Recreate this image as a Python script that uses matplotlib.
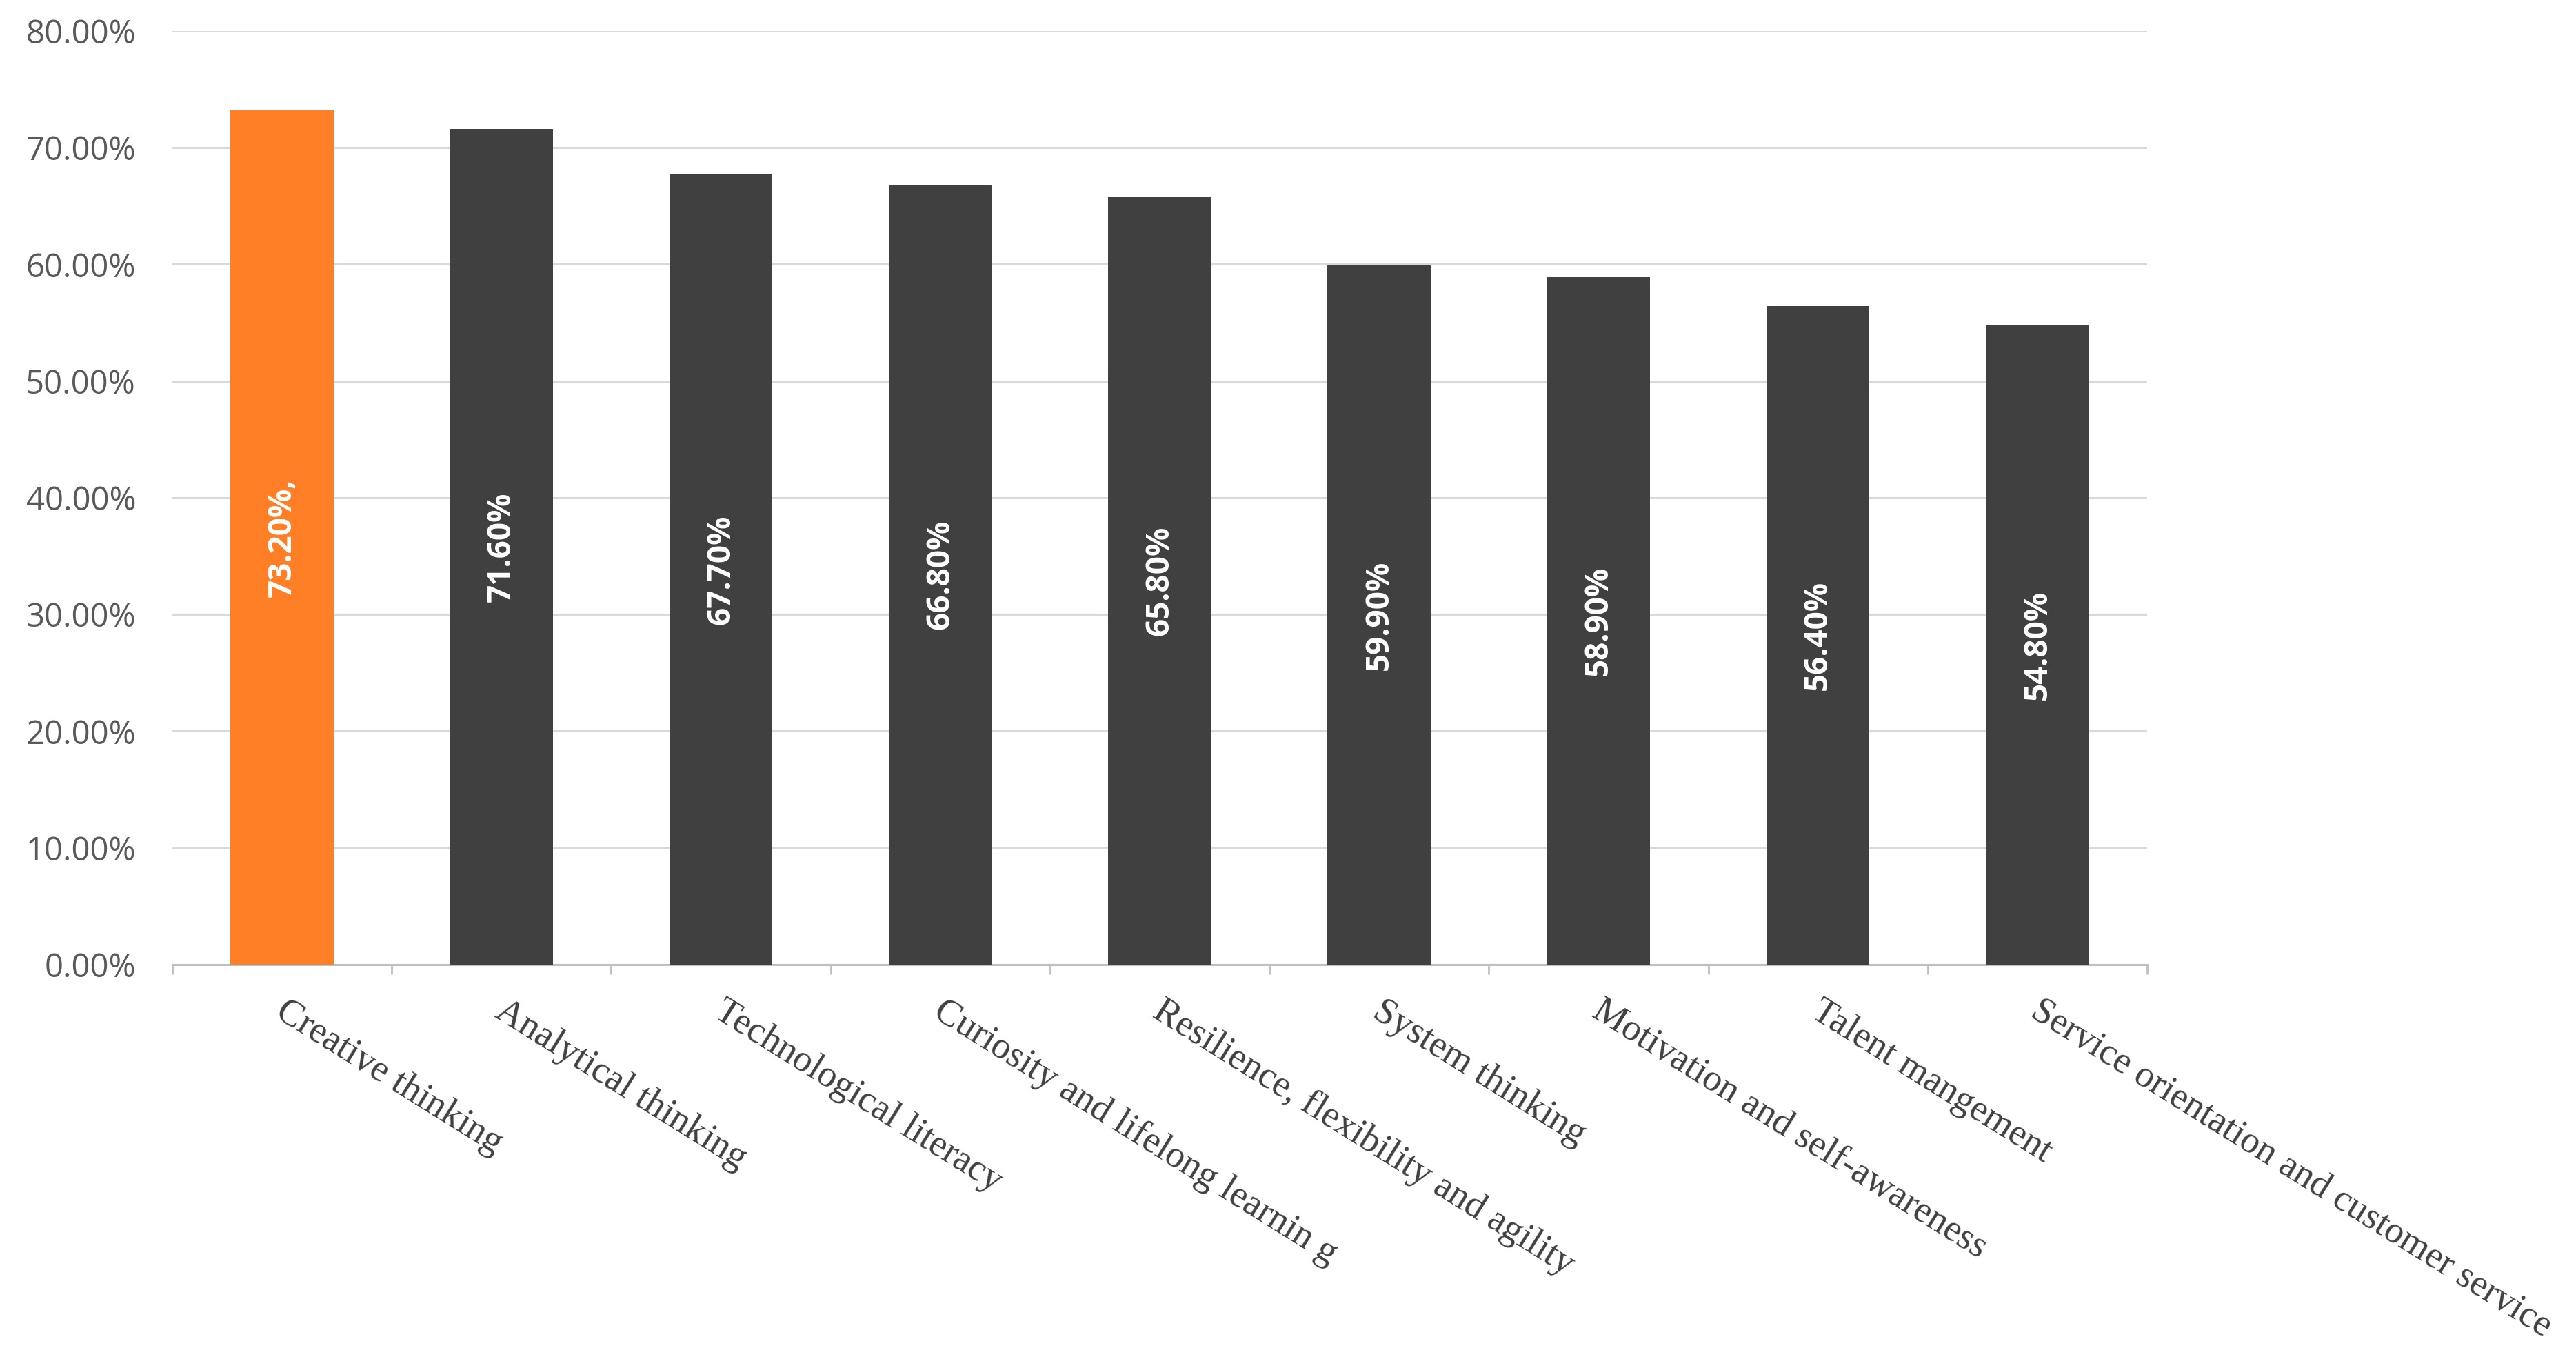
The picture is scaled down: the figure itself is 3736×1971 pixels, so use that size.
import matplotlib.pyplot as plt
import numpy as np
from matplotlib.ticker import FixedLocator

skills = ['Creative thinking', 'Analytical thinking', 'Technological literacy',
          'Curiosity and lifelong learnin g', 'Resilience, flexibility and agility',
          'System thinking', 'Motivation and self-awareness', 'Talent mangement',
          'Service orientation and customer service']
shares = [73.2, 71.6, 67.7, 66.8, 65.8, 59.9, 58.9, 56.4, 54.8]
bar_labels = ['73.20%,', '71.60%', '67.70%', '66.80%', '65.80%',
              '59.90%', '58.90%', '56.40%', '54.80%']
y_ticks = [0, 10, 20, 30, 40, 50, 60, 70, 80]

orange = '#FF7F27'
dark = '#404040'

fig = plt.figure(figsize=(37.36, 19.71), dpi=100)
ax = fig.add_axes([0.0669, 0.2902, 0.7666, 0.687])

x = np.arange(len(skills))
colors = [orange] + [dark] * (len(skills) - 1)
ax.bar(x, shares, width=0.47, color=colors, zorder=3)

# value labels, centred in the bars
for xi, v, lab in zip(x, shares, bar_labels):
    ax.text(xi, v / 2, lab, rotation=90, ha='center', va='center',
            color='white', fontsize=33, fontweight='bold',
            family='Open Sans', zorder=4)

ax.set_xlim(-0.5, len(skills) - 0.5)
ax.set_ylim(0, 80)
ax.set_yticks(y_ticks)
ax.set_yticklabels(['{:.2f}%'.format(t) for t in y_ticks],
                   family='Open Sans', fontsize=34, color='#595959')
ax.tick_params(axis='y', length=0, pad=38)
ax.grid(axis='y', color='#D9D9D9', linewidth=2.2, zorder=0)

# category labels, slanted down to the right
ax.set_xticks(x)
ax.set_xticklabels([])
ax.tick_params(axis='x', which='major', length=0)
for xi, name in zip(x, skills):
    ax.annotate(name, xy=(xi, 0), xycoords=ax.get_xaxis_transform(),
                xytext=(6, -30), textcoords='offset points',
                rotation=-32, rotation_mode='anchor', ha='left', va='top',
                family='Liberation Serif', fontsize=39, color='#404040')
ax.xaxis.set_minor_locator(FixedLocator(np.arange(-0.5, len(skills), 1.0)))
ax.tick_params(axis='x', which='minor', length=10, width=2, color='#BFBFBF')

for side in ['top', 'right', 'left']:
    ax.spines[side].set_visible(False)
ax.spines['bottom'].set_color('#BFBFBF')
ax.spines['bottom'].set_linewidth(2.2)

fig.savefig('out.png', dpi=100, facecolor='white')
